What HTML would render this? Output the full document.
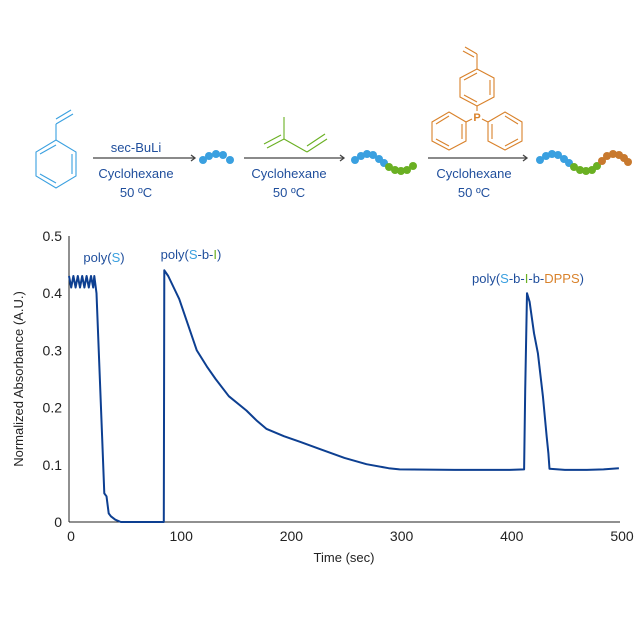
<!DOCTYPE html>
<html><head><meta charset="utf-8"><style>
html,body{margin:0;padding:0;background:#fff}
svg{display:block;font-family:"Liberation Sans",sans-serif}
</style></head><body>
<svg id="c" width="640" height="640" viewBox="0 0 640 640">
<g fill="none" stroke-width="1.1">
 <g stroke="#3aa0e0">
  <polygon points="56,140 76,152 76,176 56,188 36,176 36,152"/>
  <line x1="40" y1="154" x2="56" y2="145"/><line x1="72" y1="154" x2="72" y2="174"/><line x1="40" y1="174" x2="56" y2="183"/>
  <line x1="56" y1="140" x2="56" y2="124"/><line x1="56" y1="124" x2="73" y2="114"/><line x1="56" y1="119" x2="71" y2="110"/>
 </g>
 <g stroke="#6ab023">
  <line x1="284" y1="117" x2="284" y2="139"/><line x1="284" y1="139" x2="267" y2="148"/><line x1="281" y1="135" x2="264" y2="144"/>
  <line x1="284" y1="139" x2="307" y2="152"/><line x1="307" y1="152" x2="327" y2="139"/><line x1="307" y1="146" x2="325" y2="134"/>
 </g>
 <g stroke="#d9822b">
  <line x1="477" y1="54" x2="477" y2="69"/><line x1="477" y1="54" x2="465" y2="47"/><line x1="474" y1="57" x2="463" y2="51"/>
  <polygon points="477,69 494,78 494,97 477,106 460,97 460,78"/>
  <line x1="464" y1="80" x2="477" y2="73"/><line x1="490" y1="80" x2="490" y2="95"/><line x1="464" y1="95" x2="477" y2="102"/>
  <line x1="477" y1="106" x2="477" y2="111"/>
  <line x1="472" y1="119" x2="466" y2="122"/><line x1="482" y1="119" x2="488" y2="122"/>
  <polygon points="449,112 466,122 466,141 449,150 432,141 432,122"/>
  <polygon points="505,112 522,122 522,141 505,150 488,141 488,122"/>
  <line x1="436" y1="124" x2="449" y2="116"/><line x1="462" y1="124" x2="462" y2="139"/><line x1="436" y1="139" x2="449" y2="146"/>
  <line x1="492" y1="124" x2="492" y2="139"/><line x1="505" y1="116" x2="518" y2="124"/><line x1="505" y1="146" x2="518" y2="139"/>
 </g>
 <text x="477" y="121" fill="#d9822b" stroke="none" font-size="11" font-weight="bold" text-anchor="middle">P</text>
 <g stroke="#444" stroke-width="1.3">
  <line x1="93" y1="158" x2="195" y2="158"/><polyline points="191,155 195,158 191,161"/>
  <line x1="244" y1="158" x2="344" y2="158"/><polyline points="340,155 344,158 340,161"/>
  <line x1="428" y1="158" x2="527" y2="158"/><polyline points="523,155 527,158 523,161"/>
 </g>
 <g stroke="none" fill="#1f4e9c" font-size="13" text-anchor="middle">
  <text x="136" y="152">sec-BuLi</text><text x="136" y="178">Cyclohexane</text><text x="136" y="197">50 ºC</text>
  <text x="289" y="178">Cyclohexane</text><text x="289" y="197">50 ºC</text>
  <text x="474" y="178">Cyclohexane</text><text x="474" y="197">50 ºC</text>
 </g>
 <g stroke="none">
  <g fill="#3aa0e0"><circle cx="203" cy="160" r="4"/><circle cx="209" cy="156" r="4"/><circle cx="216" cy="154" r="4"/><circle cx="223" cy="155" r="4"/><circle cx="230" cy="160" r="4"/></g>
  <g fill="#3aa0e0"><circle cx="355" cy="160" r="4"/><circle cx="361" cy="156" r="4"/><circle cx="367" cy="154" r="4"/><circle cx="373" cy="155" r="4"/><circle cx="379" cy="159" r="4"/><circle cx="384" cy="163" r="4"/></g>
  <g fill="#6ab023"><circle cx="389" cy="167" r="4"/><circle cx="395" cy="170" r="4"/><circle cx="401" cy="171" r="4"/><circle cx="407" cy="170" r="4"/><circle cx="413" cy="166" r="4"/></g>
  <g fill="#3aa0e0"><circle cx="540" cy="160" r="4"/><circle cx="546" cy="156" r="4"/><circle cx="552" cy="154" r="4"/><circle cx="558" cy="155" r="4"/><circle cx="564" cy="159" r="4"/><circle cx="569" cy="163" r="4"/></g>
  <g fill="#6ab023"><circle cx="574" cy="167" r="4"/><circle cx="580" cy="170" r="4"/><circle cx="586" cy="171" r="4"/><circle cx="592" cy="170" r="4"/><circle cx="597" cy="166" r="4"/></g>
  <g fill="#c8792e"><circle cx="602" cy="161" r="4"/><circle cx="607" cy="156" r="4"/><circle cx="613" cy="154" r="4"/><circle cx="619" cy="155" r="4"/><circle cx="624" cy="158" r="4"/><circle cx="628" cy="162" r="4"/></g>
 </g>
</g>
<g id="plot"></g>
</svg>
<script>
const times=[0,2,4,6,8,10,12,14,16,18,20,22,23,25,30,32,34,36,38,42,47,60,80,86,86.5,90,95,100,108,116,125,133,145,161,170,179,195,210,227,250,270,290,300,350,400,413,414,415.6,418,422,425.5,430,433.5,435,436,450,470,485,499];
const absorb=[0.43,0.41,0.43,0.41,0.43,0.41,0.43,0.41,0.43,0.41,0.43,0.41,0.43,0.4,0.15,0.05,0.045,0.015,0.01,0.004,0,0,0,0,0.44,0.43,0.41,0.39,0.345,0.30,0.272,0.25,0.22,0.195,0.178,0.163,0.15,0.14,0.128,0.112,0.101,0.094,0.092,0.091,0.091,0.092,0.23,0.40,0.385,0.33,0.295,0.22,0.149,0.12,0.093,0.091,0.091,0.092,0.094];
const xTicks=[0,100,200,300,400,500];
const yTicks=[0,0.1,0.2,0.3,0.4,0.5];
const yTickLabels=["0","0.1","0.2","0.3","0.4","0.5"];
const NS="http://www.w3.org/2000/svg";
const X=t=>69+t*(620-69)/500;
const Y=v=>522-v*(522-236)/0.5;
const g=document.getElementById('plot');
function mk(tag,attrs,text){const e=document.createElementNS(NS,tag);for(const k in attrs)e.setAttribute(k,attrs[k]);if(text!==undefined)e.textContent=text;g.appendChild(e);return e;}
let e=mk('line',{x1:69,y1:236,x2:69,y2:522,stroke:'#222','stroke-width':1});


e=mk('line',{x1:69,y1:522,x2:620,y2:522,stroke:'#222','stroke-width':1});


xTicks.forEach(t=>{const el=mk('text',{x:X(t)+2,y:541,'text-anchor':'middle','font-size':14,fill:'#222'},String(t));

});
yTicks.forEach((v,i)=>{const el=mk('text',{x:62,y:Y(v)+5,'text-anchor':'end','font-size':14,fill:'#222'},yTickLabels[i]);

});
e=mk('text',{x:344,y:562,'text-anchor':'middle','font-size':13,fill:'#222'},'Time (sec)');


e=mk('text',{x:0,y:0,'text-anchor':'middle','font-size':13,fill:'#222',transform:'translate(23,379) rotate(-90)'},'Normalized Absorbance (A.U.)');


const d=times.map((t,i)=>(i?'L':'M')+X(t).toFixed(1)+','+Y(absorb[i]).toFixed(1)).join('');
e=mk('path',{d:d,fill:'none',stroke:'#0d3f91','stroke-width':2,'stroke-linejoin':'round'});


function label(x,y,parts,name){const t=mk('text',{x:x,y:y,'font-size':13,'text-anchor':'middle'});


parts.forEach(p=>{const s=document.createElementNS(NS,'tspan');s.setAttribute('fill',p[1]);s.textContent=p[0];t.appendChild(s);});}
const B='#1f4e9c',S='#3aa0e0',G='#6ab023',O='#d9822b';
label(104,262,[['poly(',B],['S',S],[')',B]],'label-poly-s');
label(191,259,[['poly(',B],['S',S],['-b-',B],['I',G],[')',B]],'label-poly-s-b-i');
label(528,283,[['poly(',B],['S',S],['-b-',B],['I',G],['-b-',B],['DPPS',O],[')',B]],'label-poly-s-b-i-b-dpps');
</script>
</body></html>
